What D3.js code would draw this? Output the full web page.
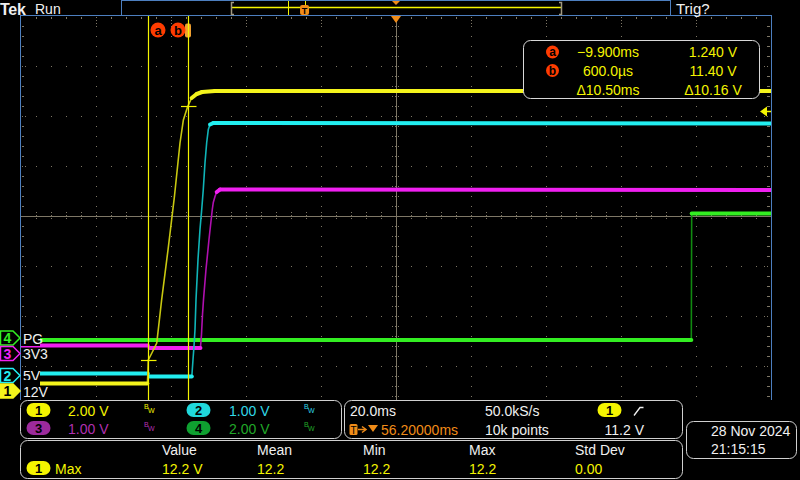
<!DOCTYPE html>
<html><head><meta charset="utf-8">
<script src="https://cdn.jsdelivr.net/npm/d3@7"></script>
<style>
html,body{margin:0;padding:0;background:#000;}
svg{display:block;}
text{font-family:"Liberation Sans",Arial,sans-serif;}
</style></head><body>
<svg id="c" width="800" height="480"></svg>
<script>
// ---------------- data ----------------
const timeDomain = [-43.8, 156.2];          // ms across the 10 divisions
const channelIds = [1, 2, 3, 4];
const channelNames = ["12V", "5V", "3V3", "PG"];
const voltsPerDiv = [2, 1, 1, 2];
const offsetDiv = [-3.5, -3.19, -2.75, -2.44];
const channelColors = ["#f4f41c", "#22eef0", "#f020f0", "#33ee22"];
const channelDim = ["#c8c810", "#10b4b8", "#b010b0", "#108a10"];

const ch1T = [-43.8, -10.1, -9.95, -9.85, -8.9, -7.6, -6.3, -4.6, -2.9, -1.4, -0.5, 0.6, 1.7, 3.05, 4.5, 7.9, 156.2];
const ch1V = [0.30, 0.30, 0.76, 1.24, 1.52, 1.92, 3.64, 5.64, 7.76, 9.92, 10.84, 11.36, 11.72, 11.88, 11.96, 12.0, 12.0];
const ch2T = [-43.8, -10.0, -9.5, 1.75, 2.07, 2.33, 2.6, 2.87, 3.4, 3.93, 4.39, 4.81, 5.27, 5.72, 6.15, 6.6, 7.5, 156.2];
const ch2V = [0.04, 0.04, -0.02, -0.02, 0.32, 0.58, 0.92, 1.52, 2.32, 2.92, 3.32, 3.72, 4.26, 4.66, 4.92, 5.02, 5.05, 5.04];
const ch3T = [-43.8, -10.0, -9.5, 4.05, 4.33, 4.6, 4.87, 5.53, 6.33, 7.21, 7.48, 7.93, 8.39, 9.27, 156.2];
const ch3V = [0.16, 0.16, 0.11, 0.11, 0.38, 0.78, 1.08, 1.68, 2.28, 2.88, 3.02, 3.14, 3.23, 3.28, 3.27];
const ch4T = [-43.8, 134.95, 135.05, 156.2];
const ch4V = [-0.08, -0.08, 4.98, 4.98];

const cursorTimes = [-9.9, 0.6];
const cursorVolts = [1.24, 11.40];
const cursorNames = ["a", "b"];
const triggerLevel = 11.2;
const readoutTimes = ["\u22129.900ms", "600.0\u00b5s", "\u039410.50ms"];
const readoutVolts = ["1.240 V", "11.40 V", "\u039410.16 V"];
const scaleLabels = ["2.00 V", "1.00 V", "1.00 V", "2.00 V"];
const measHeaders = ["Value", "Mean", "Min", "Max", "Std Dev"];
const measValues = ["12.2 V", "12.2", "12.2", "12.2", "0.00"];

// ---------------- setup ----------------
const svg = d3.select("#c");
const X0 = 21, X1 = 771, Y0 = 16, Y1 = 416;
const x = d3.scaleLinear().domain(timeDomain).range([X0, X1]);
const yDiv = d3.scaleLinear().domain([-4, 4]).range([Y1, Y0]);
const chY = i => v => yDiv(offsetDiv[i] + v / voltsPerDiv[i]);
const GRID = "#7e7766", BORDER = "#4d7fbf", WHITE = "#f0f0f0";

svg.append("rect").attr("width", 800).attr("height", 480).attr("fill", "#000");
svg.append("defs").append("clipPath").attr("id", "plot")
  .append("rect").attr("x", X0).attr("y", Y0).attr("width", X1 - X0).attr("height", 400 - Y0);

// ---------------- graticule ----------------
const grid = svg.append("g");
const xMinor = d3.range(X0 + 15, X1, 15);
const yMinor = d3.range(Y0 + 10, 400, 10);
const xMajor = d3.range(1, 10).map(k => X0 + 75 * k);
const yMajor = d3.range(1, 8).map(k => Y0 + 50 * k);
yMajor.filter(v => v !== 216).forEach(yy => {
  xMinor.forEach(xx => grid.append("rect").attr("x", xx).attr("y", yy).attr("width", 1).attr("height", 1).attr("fill", GRID));
});
xMajor.filter(v => v !== 396).forEach(xx => {
  yMinor.forEach(yy => grid.append("rect").attr("x", xx).attr("y", yy).attr("width", 1).attr("height", 1).attr("fill", GRID));
});
// center lines
grid.append("line").attr("x1", X0).attr("x2", X1).attr("y1", 216.5).attr("y2", 216.5).attr("stroke", GRID);
grid.append("line").attr("x1", 396.5).attr("x2", 396.5).attr("y1", Y0).attr("y2", 400).attr("stroke", GRID);
xMinor.forEach(xx => grid.append("line").attr("x1", xx + 0.5).attr("x2", xx + 0.5).attr("y1", 212).attr("y2", 221)
  .attr("stroke", GRID).attr("stroke-dasharray", "1,2"));
yMinor.forEach(yy => grid.append("line").attr("y1", yy + 0.5).attr("y2", yy + 0.5).attr("x1", 392).attr("x2", 401)
  .attr("stroke", GRID).attr("stroke-dasharray", "1,2"));
// edge ticks
xMinor.forEach(xx => {
  const maj = xMajor.includes(xx);
  grid.append("line").attr("x1", xx + 0.5).attr("x2", xx + 0.5).attr("y1", 17).attr("y2", maj ? 25 : 19)
    .attr("stroke", GRID).attr("stroke-dasharray", maj ? "1,2" : null);
});
yMinor.forEach(yy => {
  const maj = yMajor.includes(yy);
  grid.append("line").attr("y1", yy + 0.5).attr("y2", yy + 0.5).attr("x1", 22).attr("x2", maj ? 28 : 24)
    .attr("stroke", GRID).attr("stroke-dasharray", maj ? "1,2" : null);
  grid.append("line").attr("y1", yy + 0.5).attr("y2", yy + 0.5).attr("x1", maj ? 764 : 767).attr("x2", 770)
    .attr("stroke", GRID).attr("stroke-dasharray", maj ? "1,2" : null);
});

// ---------------- traces ----------------
const tracesG = svg.append("g").attr("clip-path", "url(#plot)");
const series = [[ch1T, ch1V], [ch2T, ch2V], [ch3T, ch3V], [ch4T, ch4V]];
[3, 2, 1, 0].forEach(i => {
  const y = chY(i);
  const pts = series[i][0].map((t, j) => [x(t), y(series[i][1][j])]);
  tracesG.append("path").attr("d", d3.line()(pts)).attr("fill", "none")
    .attr("stroke", channelDim[i]).attr("stroke-width", 1.6);
  for (let j = 0; j < pts.length - 1; j++) {
    const dx = pts[j + 1][0] - pts[j][0], dy = pts[j + 1][1] - pts[j][1];
    if (Math.abs(dy) <= Math.abs(dx) * 0.8) {
      tracesG.append("path").attr("d", d3.line()([pts[j], pts[j + 1]])).attr("fill", "none")
        .attr("stroke", channelColors[i]).attr("stroke-width", 4).attr("stroke-linecap", "round");
    }
  }
});

// ---------------- cursors ----------------
const curG = svg.append("g");
curG.append("rect").attr("x", 185).attr("y", 23.5).attr("width", 6).attr("height", 14).attr("rx", 2).attr("fill", "#f0a030");
cursorTimes.forEach((t, k) => {
  const cx = Math.round(x(t)) + 0.5;
  curG.append("line").attr("x1", cx).attr("x2", cx).attr("y1", Y0).attr("y2", 400).attr("stroke", "#f4f400").attr("stroke-width", 1.2);
  const cy = Math.round(chY(0)(cursorVolts[k])) + 0.5;
  curG.append("line").attr("x1", cx - 7.5).attr("x2", cx + 8).attr("y1", cy).attr("y2", cy).attr("stroke", "#f4f400").attr("stroke-width", 1.2);
});
[158, 178].forEach((cx, k) => {
  curG.append("circle").attr("cx", cx).attr("cy", 30).attr("r", 7.5).attr("fill", "#ff3c00");
  curG.append("text").attr("x", cx).attr("y", 34.5).attr("text-anchor", "middle").attr("font-size", 13)
    .attr("font-weight", "bold").attr("fill", "#000").text(cursorNames[k]);
});

// trigger position & level markers
svg.append("path").attr("d", d3.line()([[391, 16], [401, 16], [396, 23]])).attr("fill", "#f08c18");
const ty = Math.round(chY(0)(triggerLevel)) + 0.5;
svg.append("path").attr("d", d3.line()([[760, ty], [767, ty - 5], [767, ty + 5]])).attr("fill", "#f4f400");
svg.append("line").attr("x1", 766).attr("x2", 771).attr("y1", ty).attr("y2", ty).attr("stroke", "#f4f400").attr("stroke-width", 1.5);

// ---------------- borders ----------------
svg.append("line").attr("x1", 20).attr("x2", 772).attr("y1", 15.5).attr("y2", 15.5).attr("stroke", BORDER);
svg.append("line").attr("x1", 20.5).attr("x2", 20.5).attr("y1", 15).attr("y2", 400).attr("stroke", BORDER);
svg.append("line").attr("x1", 771.5).attr("x2", 771.5).attr("y1", 15).attr("y2", 400).attr("stroke", BORDER);

// ---------------- top bar ----------------
svg.append("text").attr("x", 0).attr("y", 14.5).attr("font-family", "Liberation Serif").attr("font-weight", "bold")
  .attr("font-size", 16).attr("fill", WHITE).attr("letter-spacing", -0.3).text("Tek");
svg.append("text").attr("x", 35).attr("y", 13.5).attr("font-size", 14).attr("fill", WHITE).text("Run");
svg.append("text").attr("x", 676).attr("y", 14).attr("font-size", 15).attr("fill", WHITE).text("Trig?");
svg.append("rect").attr("x", 121.5).attr("y", 0.5).attr("width", 549).attr("height", 15).attr("fill", "none").attr("stroke", BORDER);
const rv = d3.scaleLinear().domain(timeDomain).range([232, 561]);
svg.append("line").attr("x1", 232).attr("x2", 561).attr("y1", 7.5).attr("y2", 7.5).attr("stroke", "#f4f400").attr("stroke-width", 1.3);
svg.append("path").attr("d", "M234,2.5 H231.5 V14.5 H234").attr("fill", "none").attr("stroke", "#a09880").attr("stroke-width", 1.5);
svg.append("path").attr("d", "M559,2.5 H561.5 V14.5 H559").attr("fill", "none").attr("stroke", "#a09880").attr("stroke-width", 1.5);
cursorTimes.forEach(t => svg.append("line").attr("x1", Math.round(rv(t)) + 0.5).attr("x2", Math.round(rv(t)) + 0.5)
  .attr("y1", 1).attr("y2", 15).attr("stroke", "#f4f400"));
svg.append("rect").attr("x", rv(0) - 4).attr("y", 5).attr("width", 9).attr("height", 10).attr("rx", 2).attr("fill", "#f08c18");
svg.append("text").attr("x", rv(0) + 0.5).attr("y", 13.5).attr("text-anchor", "middle").attr("font-size", 9).attr("font-weight", "bold").attr("fill", "#000").text("T");
svg.append("path").attr("d", d3.line()([[392, 1], [400, 1], [396, 5]])).attr("fill", "#f08c18");

// ---------------- channel markers & labels ----------------
const labG = svg.append("g");
const labBg = [[380, 19], [368, 16], null, [331, 15]];
[3, 2, 1, 0].forEach(i => {
  const gy = yDiv(offsetDiv[i]);
  const bg = labBg[i];
  if (bg) labG.append("rect").attr("x", 21).attr("y", bg[0]).attr("width", 19).attr("height", bg[1]).attr("fill", "#000");
  const shape = [[0.5, gy - 7], [13, gy - 7], [20, gy], [13, gy + 7], [0.5, gy + 7]];
  labG.append("path").attr("d", d3.line()(shape) + "Z")
    .attr("fill", i === 0 ? channelColors[0] : "#000").attr("stroke", channelColors[i]).attr("stroke-width", 1.5);
  labG.append("text").attr("x", 7.5).attr("y", gy + 5).attr("text-anchor", "middle").attr("font-size", 14)
    .attr("font-weight", "bold").attr("fill", i === 0 ? "#000" : channelColors[i]).text(channelIds[i]);
  labG.append("text").attr("x", 23).attr("y", gy + 5.5).attr("font-size", 14).attr("fill", WHITE).text(channelNames[i]);
});

// ---------------- cursor readout ----------------
const ro = svg.append("g");
ro.append("rect").attr("x", 523.5).attr("y", 40.5).attr("width", 236).attr("height", 58).attr("rx", 7)
  .attr("fill", "#000").attr("stroke", "#d8d8d8");
const roRows = [56.5, 75.5, 95];
[52, 70.5].forEach((cy, k) => {
  ro.append("circle").attr("cx", 552.5).attr("cy", cy).attr("r", 6.5).attr("fill", "#ff3c00");
  ro.append("text").attr("x", 552.5).attr("y", cy + 4).attr("text-anchor", "middle").attr("font-size", 12)
    .attr("font-weight", "bold").attr("fill", "#000").text(cursorNames[k]);
});
readoutTimes.forEach((s, k) => ro.append("text").attr("x", 608).attr("y", roRows[k]).attr("text-anchor", "middle")
  .attr("font-size", 14).attr("fill", "#f4f400").text(s));
readoutVolts.forEach((s, k) => ro.append("text").attr("x", 713).attr("y", roRows[k]).attr("text-anchor", "middle")
  .attr("font-size", 14).attr("fill", "#f4f400").text(s));

// ---------------- bottom panels ----------------
const pn = svg.append("g");
function panel(x0, y0, w, h) {
  pn.append("rect").attr("x", x0 + 0.5).attr("y", y0 + 0.5).attr("width", w).attr("height", h).attr("rx", 7)
    .attr("fill", "#000").attr("stroke", "#d0d0d0");
}
function pill(cx, cy, fill, label, fg) {
  pn.append("rect").attr("x", cx - 12).attr("y", cy - 7).attr("width", 24).attr("height", 14).attr("rx", 7).attr("fill", fill);
  pn.append("text").attr("x", cx).attr("y", cy + 5).attr("text-anchor", "middle").attr("font-size", 13)
    .attr("font-weight", "bold").attr("fill", fg || "#000").text(label);
}
function txt(x0, y0, s, col, anchor, size) {
  pn.append("text").attr("x", x0).attr("y", y0).attr("font-size", size || 14).attr("fill", col)
    .attr("text-anchor", anchor || "start").text(s);
}
function bw(x0, y0, col) {
  txt(x0, y0 + 5, "B", col, "start", 7);
  txt(x0 + 4, y0 + 9, "W", col, "start", 7);
}
panel(20, 400, 321, 38);
panel(344, 400, 338, 38);
panel(686, 421, 110, 37);
panel(20, 440, 662, 38);

const pillFill = ["#f4f400", "#20d8dc", "#9c2a9c", "#0fa030"];
const scaleText = ["#f4f400", "#30d8e8", "#b030b0", "#20a828"];
[[38.5, 410, 68, 144], [198.5, 410, 229, 304], [38.5, 428, 68, 144], [198.5, 428, 229, 304]].forEach((p, i) => {
  pill(p[0], p[1], pillFill[i], channelIds[i]);
  txt(p[2], p[1] + 6, scaleLabels[i], scaleText[i]);
  bw(p[3], p[1] - 6, scaleText[i]);
});
txt(350, 416, "20.0ms", WHITE);
pn.append("rect").attr("x", 349.5).attr("y", 424).attr("width", 8).attr("height", 11).attr("rx", 1.5).attr("fill", "#f08c18");
txt(353.5, 433.5, "T", "#000", "middle", 10);
pn.append("path").attr("d", "M358,429.5 H365").attr("stroke", "#f08c18").attr("stroke-width", 1.5);
pn.append("path").attr("d", "M362,426.5 L366,429.5 L362,432.5").attr("fill", "none").attr("stroke", "#f08c18").attr("stroke-width", 1.5);
pn.append("path").attr("d", "M368,425 H378 L373,432 Z").attr("fill", "#f08c18");
txt(381, 434.5, "56.20000ms", "#f08c18");
txt(485, 416, "50.0kS/s", WHITE);
txt(485, 434.5, "10k points", WHITE);
pill(609.5, 410, "#f4f400", "1");
pn.append("path").attr("d", "M634,415.5 L640,407.5 H643.5").attr("fill", "none").attr("stroke", WHITE).attr("stroke-width", 1.3);
txt(644, 434.5, "11.2 V", WHITE, "end");
txt(711, 435.5, "28 Nov 2024", WHITE);
txt(711, 453.5, "21:15:15", WHITE);

const measX = [162, 257, 363, 469, 575];
measHeaders.forEach((h, k) => txt(measX[k], 455, h, WHITE));
pill(38.5, 468, "#f4f400", "1");
txt(55, 473.5, "Max", "#f4f400");
measValues.forEach((v, k) => txt(measX[k], 473.5, v, "#f4f400"));
</script>
</body></html>
